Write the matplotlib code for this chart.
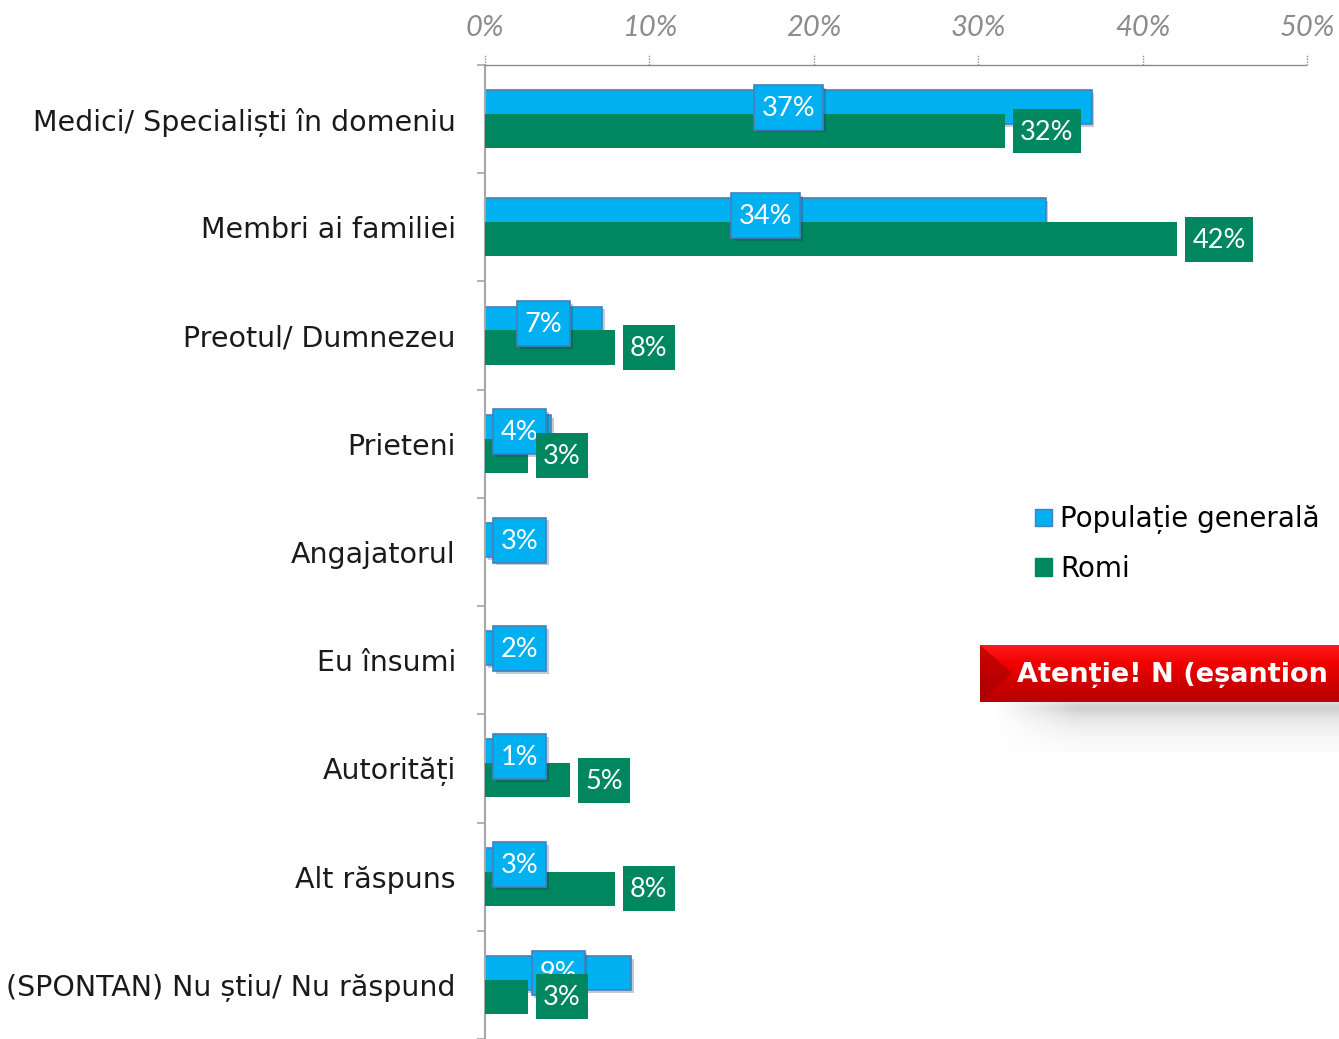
import numpy as np
import matplotlib
matplotlib.use("Agg")
import matplotlib.pyplot as plt
from matplotlib.patches import Rectangle, Polygon, Patch
from matplotlib import patheffects as pe
import matplotlib.transforms as mtransforms

# data (bar lengths, labels are the rounded values)
categories = [
    "Medici/ Specialiști în domeniu",
    "Membri ai familiei",
    "Preotul/ Dumnezeu",
    "Prieteni",
    "Angajatorul",
    "Eu însumi",
    "Autorități",
    "Alt răspuns",
    "(SPONTAN) Nu știu/ Nu răspund",
]
pop_generala = [36.9, 34.1, 7.1, 4.0, 3.0, 2.0, 1.0, 3.0, 8.9]
romi = [31.6, 42.1, 7.9, 2.6, 0, 0, 5.2, 7.9, 2.6]
series_names = ["Populație generală", "Romi"]
x_ticks = [0, 10, 20, 30, 40, 50]

BLUE = "#00B0F0"
BLUE_EDGE = "#4A7EBB"
GREEN = "#00875F"
GRAY = "#8C8C8C"
TXT_FONT = "DejaVu Sans"

W, H = 1339, 1039
fig = plt.figure(figsize=(W / 100, H / 100), dpi=100)
ax = fig.add_axes([485 / W, 0, 822 / W, 974 / H])
ax.set_xlim(0, 50)
ax.set_ylim(8.485, -0.5)

y = np.arange(len(categories))
off = 0.11
bh = 0.315

shadow = [pe.SimplePatchShadow(offset=(2, -2), alpha=0.25), pe.Normal()]
ax.barh(y - off, pop_generala, height=bh, color=BLUE, edgecolor=BLUE_EDGE,
        linewidth=1.2, zorder=2, path_effects=shadow)
ax.barh(y + off, romi, height=bh, color=GREEN, linewidth=0, zorder=3)

# value boxes
px = 50 / 822.0          # data units per pixel (x)
py = 1 / 108.3           # data units per pixel (y)
box_h = 45 * py
lbl_font = dict(family="Lato", fontsize=19.5, color="white", ha="center", va="center")

for i, v in enumerate(pop_generala):
    txt = f"{round(v)}%"
    bw = (69 if round(v) >= 10 else 53) * px
    cx = max(v / 2.0, 8 * px + bw / 2)
    ax.add_patch(Rectangle((cx - bw / 2, i - off - box_h / 2), bw, box_h,
                           facecolor=BLUE, edgecolor=BLUE_EDGE, linewidth=1.2,
                           zorder=4, path_effects=shadow))
    ax.text(cx, i - off + 1 * py, txt, zorder=5, **lbl_font)

for i, v in enumerate(romi):
    if v == 0:
        continue
    txt = f"{round(v)}%"
    bw = (68 if round(v) >= 10 else 52) * px
    x0 = v + 8 * px
    ax.add_patch(Rectangle((x0, i + off - box_h / 2), bw, box_h,
                           facecolor=GREEN, linewidth=0, zorder=6))
    ax.text(x0 + bw / 2, i + off + 1 * py, txt, zorder=7, **lbl_font)

# axes styling
for s in ["right", "bottom"]:
    ax.spines[s].set_visible(False)
ax.spines["left"].set_color("#A6A6A6")
ax.spines["left"].set_linewidth(1.5)
ax.spines["top"].set_color("#8C8C8C")
ax.spines["top"].set_linestyle((0, (1, 1)))
ax.spines["top"].set_linewidth(1.0)

ax.xaxis.tick_top()
ax.set_xticks(x_ticks)
ax.set_xticklabels([f"{t}%" for t in x_ticks], family="Lato", style="italic",
                   fontsize=21, color=GRAY)
ax.tick_params(axis="x", length=0, pad=17)
trans = mtransforms.blended_transform_factory(ax.transData, ax.transAxes)
for t in x_ticks:
    ax.plot([t, t], [1.0, 1.011], transform=trans, color="#8C8C8C",
            linestyle=(0, (1, 1)), linewidth=1.0, clip_on=False)

ax.set_yticks(y)
ax.set_yticklabels(categories, family=TXT_FONT, fontsize=20.5, color="#1A1A1A")
ax.tick_params(axis="y", which="major", length=0, pad=21)
ax.set_yticks(np.arange(-0.5, 9.0, 1.0), minor=True)
ax.tick_params(axis="y", which="minor", length=6, width=1.2, color="#A6A6A6")

# legend
handles = [Patch(facecolor=BLUE, edgecolor=BLUE_EDGE, linewidth=1.0),
           Patch(facecolor=GREEN, edgecolor=GREEN)]
fig.legend(handles, series_names, loc="upper left",
           bbox_to_anchor=(1024 / W, 1 - 494 / H), frameon=False,
           prop=dict(family=TXT_FONT, size=20),
           handlelength=0.6, handleheight=0.6, handletextpad=0.3,
           labelspacing=0.75, borderaxespad=0)

# warning banner
bax = fig.add_axes([970 / W, 1 - 770 / H, (W - 970) / W, 140 / H])
bax.axis("off")
# soft shadow below the banner
sy = np.linspace(0, 1, 50)
sx = np.linspace(0, 1, 200)
alpha = np.outer(np.exp(-3.0 * sy) * np.clip(sy * 6, 0, 1) ** 0.5,
                 np.clip(sx * 5, 0, 1)) * 0.55
rgba = np.zeros((50, 200, 4))
rgba[..., :3] = 0.45
rgba[..., 3] = alpha
bax.imshow(rgba, extent=(995, 1400, 752, 700), aspect="auto", zorder=1,
           interpolation="bilinear")
grad = np.linspace(0, 1, 60).reshape(-1, 1)
cmap = matplotlib.colors.LinearSegmentedColormap.from_list(
    "red", ["#FF1A1A", "#F00000", "#D00000", "#B80000"])
bax.imshow(grad, extent=(980, 1400, 702, 645), cmap=cmap, aspect="auto", zorder=2)
bax.add_patch(Polygon([(980, 645), (1012, 673), (980, 702)], closed=True,
                      facecolor="#A00000", linewidth=0, alpha=0.55, zorder=3))
bax.text(1017, 675, "Atenție! N (eșantion redus)", color="white",
         family=TXT_FONT, weight="bold", fontsize=19.5, va="center",
         ha="left", zorder=4)
bax.set_xlim(970, W)
bax.set_ylim(770, 630)

fig.savefig("out.png", dpi=100)
